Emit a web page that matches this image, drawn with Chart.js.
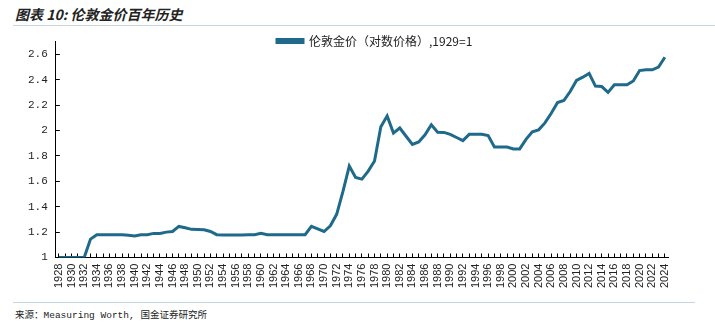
<!DOCTYPE html>
<html>
<head>
<meta charset="utf-8">
<script src="https://cdn.jsdelivr.net/npm/chart.js@4.4.1/dist/chart.umd.min.js"></script>
<style>
  body { margin: 0; width: 715px; height: 328px; background: #fff; position: relative; overflow: hidden; }
  .title { position: absolute; left: 15px; top: 4px; font: italic bold 14px "Noto Sans CJK SC", sans-serif; color: #222; }
  .rule { position: absolute; left: 13px; height: 1px; background: #c6d5e3; }
  .src { position: absolute; left: 15px; top: 307px; font: 9.5px "Liberation Mono", "Noto Sans CJK SC", monospace; color: #222; }
  #wrap { position: absolute; left: 0; top: 23px; width: 715px; height: 277px; }
</style>
</head>
<body>
<div class="title">图表 10: 伦敦金价百年历史</div>
<div class="rule" style="top:25px;width:702px"></div>
<div id="wrap"><canvas id="chart"></canvas></div>
<div class="rule" style="top:302px;width:682px"></div>
<div class="src">来源：Measuring Worth, 国金证券研究所</div>
<script>
// years 1928 - 2024
const years = [];
for (let y = 1928; y <= 2024; y++) years.push(String(y));

const seriesName = '伦敦金价（对数价格）,1929=1';

// one value per year
const goldLog = [
    1.0, 1.0, 1.0, 1.0, 1.0, 1.145, 1.18, 1.18, 1.18, 1.18,      // 1928-1937
    1.18, 1.175, 1.17, 1.18, 1.18, 1.19, 1.19, 1.2, 1.205, 1.245, // 1938-1947
    1.235, 1.222, 1.22, 1.218, 1.205, 1.18, 1.178, 1.178, 1.178, 1.178, // 1948-1957
    1.179, 1.18, 1.19, 1.18, 1.18, 1.18, 1.18, 1.18, 1.18, 1.18, // 1958-1967
    1.245, 1.225, 1.205, 1.25, 1.34, 1.52, 1.72, 1.63, 1.617, 1.68, // 1968-1977
    1.76, 2.03, 2.115, 1.98, 2.02, 1.955, 1.89, 1.91, 1.966, 2.045, // 1978-1987
    1.987, 1.985, 1.97, 1.945, 1.92, 1.97, 1.97, 1.97, 1.96, 1.87, // 1988-1997
    1.87, 1.87, 1.855, 1.855, 1.93, 1.99, 2.005, 2.06, 2.136, 2.22, // 1998-2007
    2.236, 2.307, 2.394, 2.42, 2.45, 2.35, 2.346, 2.30, 2.36, 2.36, // 2008-2017
    2.36, 2.39, 2.472, 2.478, 2.478, 2.50, 2.577                  // 2018-2024
];

const yMin = 1, yMax = 2.7, yStep = 0.2;

const lineColor = '#1f6a8b';

// legend sits inside the plot, near its top edge, a bit right of centre
const legendInPlot = {
    id: 'legendInPlot',
    afterLayout(chart) {
        const lg = chart.legend;
        if (!lg) return;
        const pad = lg.options.labels.padding;
        lg.left = 277 - pad;
        lg.top = 12 - pad;
    }
};

new Chart(document.getElementById('chart'), {
    type: 'line',
    data: {
        labels: years,
        datasets: [{
            label: seriesName,
            data: goldLog,
            borderColor: lineColor,
            backgroundColor: lineColor,
            borderWidth: 3,
            pointRadius: 0,
            tension: 0,
        }]
    },
    options: {
        responsive: true,
        maintainAspectRatio: false,
        animation: false,
        layout: { padding: { top: 3, left: 16, right: 47, bottom: 2 } },
        plugins: {
            legend: {
                position: 'chartArea',
                align: 'start',
                labels: {
                    boxWidth: 26,
                    boxHeight: 3,
                    color: '#222',
                    font: { size: 12, family: '"Noto Sans CJK SC", sans-serif' },
                },
            },
            tooltip: { enabled: false },
        },
        scales: {
            x: {
                offset: true,
                grid: { drawOnChartArea: false, tickLength: -4, color: '#000', offset: false },
                border: { color: '#000', width: 1 },
                ticks: {
                    autoSkip: false,
                    maxRotation: 90,
                    minRotation: 90,
                    padding: 10,
                    color: '#222',
                    font: { size: 11, family: '"Liberation Sans", Arial, sans-serif' },
                    callback: function (v, i) { return i % 2 === 0 ? this.getLabelForValue(v) : ''; },
                },
            },
            y: {
                min: yMin,
                max: yMax,
                grid: { drawOnChartArea: false, tickLength: -4, color: '#000' },
                border: { color: '#000', width: 1 },
                ticks: {
                    stepSize: yStep,
                    includeBounds: false,
                    padding: 12,
                    color: '#222',
                    font: { size: 11, family: '"Liberation Mono", monospace' },
                    callback: (v) => String(+v.toFixed(1)),
                },
            },
        },
    },
    plugins: [legendInPlot],
});
</script>
</body>
</html>
